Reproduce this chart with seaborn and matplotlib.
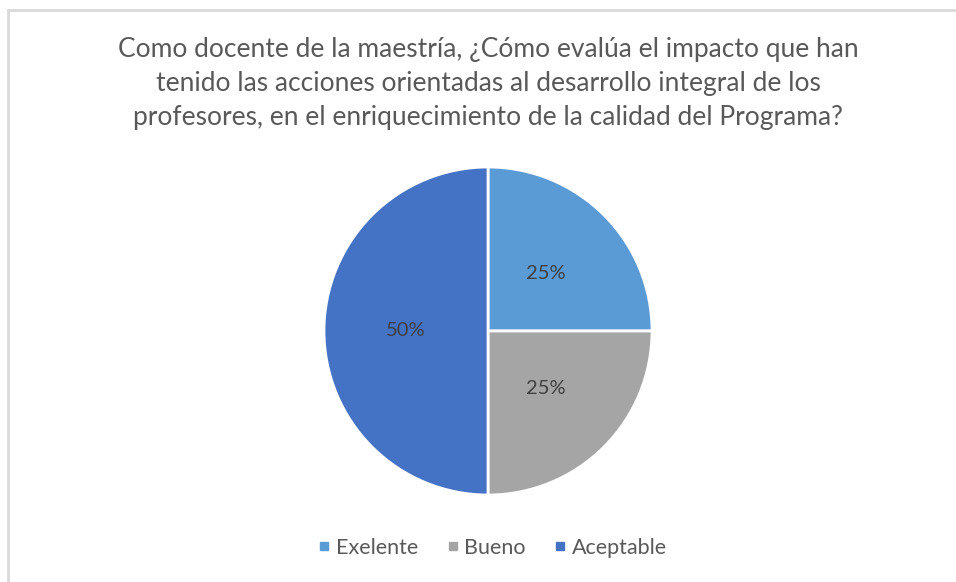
import matplotlib
matplotlib.use("Agg")
import matplotlib.pyplot as plt
import seaborn as sns
from matplotlib.lines import Line2D
from matplotlib.patches import Rectangle

categories = ["Exelente", "Bueno", "Aceptable"]
values = [25, 25, 50]
colors = ["#5B9BD5", "#A5A5A5", "#4472C4"]
title = ("Como docente de la maestría, ¿Cómo evalúa el impacto que han\n"
         "tenido las acciones orientadas al desarrollo integral de los\n"
         "profesores, en el enriquecimiento de la calidad del Programa?")

sns.set_theme(style="white")
plt.rcParams['font.family'] = ['Lato', 'DejaVu Sans']

W, H = 956, 582
fig = plt.figure(figsize=(W / 100, H / 100), dpi=100)
fig.patch.set_facecolor("white")

# chart frame (left and top visible)
fig.add_artist(Rectangle((8 / W, -0.05), 1.2, 1 - 10 / H + 0.05,
                         transform=fig.transFigure, fill=False,
                         edgecolor="#D9D9D9", linewidth=2))

cx, cy, r = 488, 331, 164
ax = fig.add_axes([(cx - r) / W, 1 - (cy + r) / H, 2 * r / W, 2 * r / H])
wedges, texts, autotexts = ax.pie(
    values, colors=colors, startangle=90, counterclock=False,
    autopct="%1.0f%%", pctdistance=0.5, radius=1,
    wedgeprops=dict(edgecolor="white", linewidth=2),
    textprops=dict(color="#404040", fontsize=14.5))
ax.set_xlim(-1, 1)
ax.set_ylim(-1, 1)
ax.set_aspect("equal")
ax.axis("off")

fig.text(cx / W, 1 - 84 / H, title, ha="center", va="center",
         fontsize=19, color="#595959", linespacing=1.45)

handles = [Line2D([0], [0], marker="s", linestyle="", markersize=6,
                  markerfacecolor=c, markeredgecolor=c) for c in colors]
fig.legend(handles, categories, loc="center", ncol=3,
           bbox_to_anchor=(493 / W, 1 - 548 / H), frameon=False,
           fontsize=15.5, labelcolor="#595959", handletextpad=0.3,
           columnspacing=1.33, handlelength=0.5)

fig.savefig("out.png", dpi=100)
